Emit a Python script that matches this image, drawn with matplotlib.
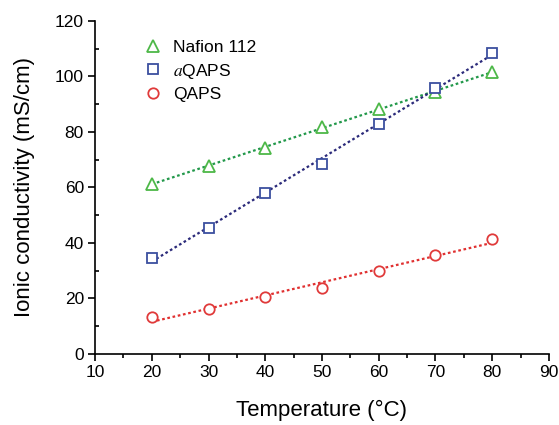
import numpy as np
import matplotlib.pyplot as plt
from matplotlib.ticker import MultipleLocator

plt.rcParams['font.family'] = ['Liberation Sans', 'DejaVu Sans']
plt.rcParams['mathtext.fontset'] = 'stix'

temp = [20, 30, 40, 50, 60, 70, 80]
nafion = [61.3, 67.7, 74.2, 81.8, 88.3, 94.4, 101.6]
aqaps = [34.6, 45.4, 58.0, 68.5, 82.9, 95.9, 108.5]
qaps = [13.3, 16.2, 20.5, 23.8, 29.9, 35.7, 41.4]

series = [
    (nafion, '^', 8.5, '#4db848', '#22984a', 'Nafion 112'),
    (aqaps, 's', 6.5, '#3b4f9f', '#2b2a7a', r'$a$QAPS'),
    (qaps, 'o', 7.5, '#e03a3a', '#e03030', 'QAPS'),
]

fig = plt.figure(figsize=(5.59, 4.25), dpi=100)
ax = fig.add_axes([0.170, 0.167, 0.812, 0.784])

x = np.array(temp)
for vals, mk, sz, mc, lc, lab in series:
    # linear fit drawn as dotted line
    k, b = np.polyfit(x, vals, 1)
    ax.plot(x, k * x + b, ls=(0, (1.2, 1.2)), color=lc, lw=1.6, zorder=1)
    ax.plot(x, vals, mk, ms=sz, mfc='white', mec=mc, mew=1.3, label=lab, zorder=2, ls='none')

ax.set_xlim(10, 90)
ax.set_ylim(0, 120)
ax.xaxis.set_major_locator(MultipleLocator(10))
ax.xaxis.set_minor_locator(MultipleLocator(5))
ax.yaxis.set_major_locator(MultipleLocator(20))
ax.yaxis.set_minor_locator(MultipleLocator(10))
ax.tick_params(axis='both', which='major', direction='out', length=5, width=1.2, labelsize=12.5, pad=3)
ax.tick_params(axis='x', which='minor', direction='out', length=3, width=1.2)
ax.tick_params(axis='y', which='minor', direction='in', length=3, width=1.2)
for s in ['top', 'right']:
    ax.spines[s].set_visible(False)
for s in ['left', 'bottom']:
    ax.spines[s].set_linewidth(1.2)

ax.set_xlabel('Temperature (°C)', fontsize=16, labelpad=14)
ax.set_ylabel('Ionic conductivity (mS/cm)', fontsize=16, labelpad=14)

ax.legend(loc='upper left', frameon=False, fontsize=12.5, bbox_to_anchor=(0.065, 0.99),
          handletextpad=0.4, labelspacing=0.38, handlelength=1.5)

fig.savefig('out.png', dpi=100)
